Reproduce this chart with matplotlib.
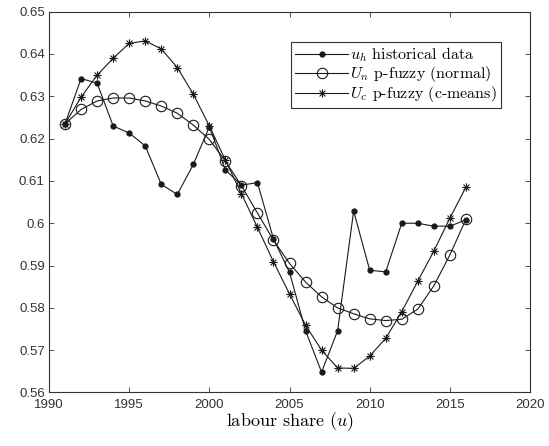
import matplotlib.pyplot as plt
import numpy as np
from matplotlib.path import Path

plt.rcParams['mathtext.fontset'] = 'cm'
plt.rcParams['axes.unicode_minus'] = False

years = list(range(1991, 2017))

u_hist = [0.6235, 0.6342, 0.6331, 0.6230, 0.6213, 0.6183, 0.6092, 0.6068, 0.6139,
          0.6228, 0.6126, 0.6090, 0.6096, 0.5963, 0.5884, 0.5746, 0.5648, 0.5746,
          0.6029, 0.5889, 0.5885, 0.6000, 0.6000, 0.5993, 0.5993, 0.6008]

u_normal = [0.6235, 0.6269, 0.6289, 0.6296, 0.6296, 0.6289, 0.6277, 0.6260, 0.6232,
            0.6198, 0.6147, 0.6089, 0.6024, 0.5960, 0.5905, 0.5861, 0.5826, 0.5800,
            0.5786, 0.5774, 0.5770, 0.5773, 0.5797, 0.5852, 0.5925, 0.6009]

u_cmeans = [0.6235, 0.6298, 0.6350, 0.6390, 0.6425, 0.6431, 0.6412, 0.6368, 0.6305,
            0.6230, 0.6149, 0.6070, 0.5990, 0.5909, 0.5833, 0.5759, 0.5700, 0.5658,
            0.5657, 0.5686, 0.5728, 0.5791, 0.5863, 0.5934, 0.6012, 0.6085]

xticks = [1990, 1995, 2000, 2005, 2010, 2015, 2020]
yticks = [0.56, 0.57, 0.58, 0.59, 0.6, 0.61, 0.62, 0.63, 0.64, 0.65]

# matlab style asterisk (+ and x together)
d = 0.7071
asterisk = Path([(-1, 0), (1, 0), (0, -1), (0, 1), (-d, -d), (d, d), (-d, d), (d, -d)],
                [Path.MOVETO, Path.LINETO] * 4)

fig = plt.figure(figsize=(5.49, 4.46), dpi=100)
ax = fig.add_axes([0.0893, 0.120, 0.8761, 0.8538])

col = '#1a1a1a'
ax.plot(years, u_hist, '-', color=col, lw=0.8, marker='o', ms=3.5,
        mfc=col, mec=col, label=r'$u_h$ historical data')
ax.plot(years, u_normal, '-', color=col, lw=0.8, marker='o', ms=7.5,
        mfc='none', mec=col, mew=0.8, label=r'$U_n$ p-fuzzy (normal)')
ax.plot(years, u_cmeans, '-', color=col, lw=0.8, marker=asterisk, ms=6,
        mec=col, mew=0.8, label=r'$U_c$ p-fuzzy (c-means)')

ax.set_xlim(1990, 2020)
ax.set_ylim(0.56, 0.65)
ax.set_xticks(xticks)
ax.set_yticks(yticks)
ax.set_xticklabels([str(x) for x in xticks], fontfamily='Liberation Sans', fontsize=9.5)
ax.set_yticklabels([f'{y:g}' for y in yticks], fontfamily='Liberation Sans', fontsize=9.5)
ax.tick_params(direction='in', top=True, right=True, length=3.5, width=0.6,
               colors='#333333')
ax.tick_params(axis='x', pad=5)
ax.tick_params(axis='y', pad=3)
for s in ax.spines.values():
    s.set_linewidth(0.8)
    s.set_color('#333333')

ax.set_xlabel(r'labour share $(u)$', fontfamily='cmr10', fontsize=13, labelpad=-1)

leg = ax.legend(loc='upper right', bbox_to_anchor=(0.9397, 0.921), borderaxespad=0,
                fancybox=False, edgecolor='#333333', framealpha=1,
                prop={'family': 'cmr10', 'size': 11.5}, handlelength=3.3,
                handletextpad=0.15, labelspacing=0.0, borderpad=0.25)
leg.get_frame().set_linewidth(0.8)

plt.savefig('out.png', dpi=100)
plt.close()
